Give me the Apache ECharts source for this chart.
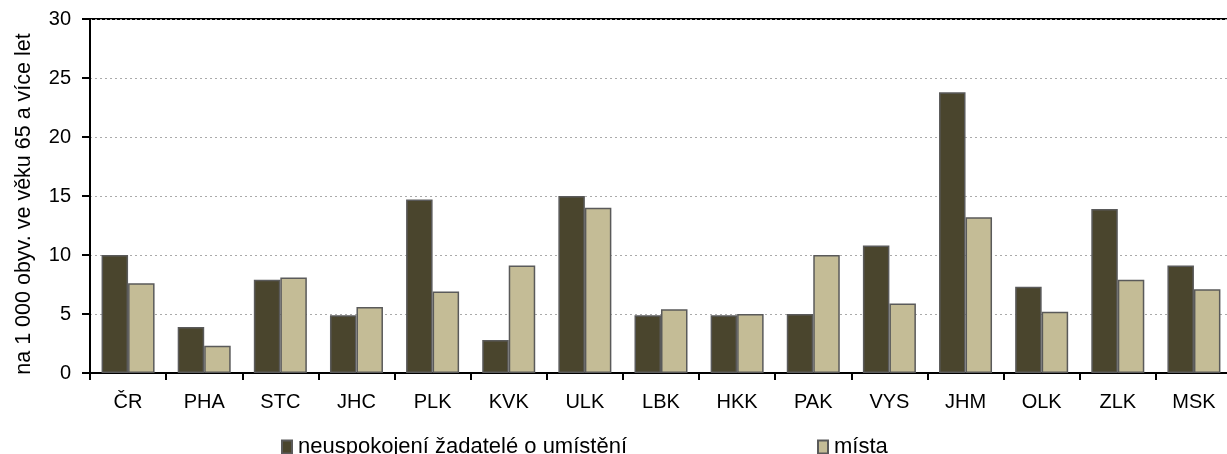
<!DOCTYPE html>
<html><head><meta charset="utf-8">
<script src="https://cdn.jsdelivr.net/npm/echarts@6/dist/echarts.min.js"></script>
<style>html,body{margin:0;padding:0;background:#fff}#c{width:1227px;height:454px}</style>
</head><body><div id="c"></div>
<script>
const categories = ['ČR','PHA','STC','JHC','PLK','KVK','ULK','LBK','HKK','PAK','VYS','JHM','OLK','ZLK','MSK'];
const applicants = [10.0,3.9,7.9,4.9,14.7,2.8,15.0,4.9,4.9,5.0,10.8,23.8,7.3,13.9,9.1];
const places = [7.6,2.3,8.1,5.6,6.9,9.1,14.0,5.4,5.0,10.0,5.9,13.2,5.2,7.9,7.1];
const yTicks = [0,5,10,15,20,25,30];
const seriesNames = ['neuspokojení žadatelé o umístění','místa'];

const chart = echarts.init(document.getElementById('c'), null, {renderer:'canvas'});
const font = 'Liberation Sans, Arial, sans-serif';
const legendText = {fontSize:22,color:'#000',fontFamily:font,padding:[0,0,0,1]};
chart.setOption({
  animation:false,
  textStyle:{fontFamily:font},
  grid:{left:90,width:1142,top:19,height:354,containLabel:false,outerBoundsMode:'none',
    show:true,borderColor:'#000',borderWidth:2,backgroundColor:'transparent'},
  legend:[
    {data:[seriesNames[0]],left:276,top:431,itemWidth:10,itemHeight:13,icon:'rect',
     textStyle:legendText},
    {data:[seriesNames[1]],left:812,top:431,itemWidth:10,itemHeight:13,icon:'rect',
     textStyle:legendText}
  ],
  xAxis:{type:'category',data:categories,
    axisLine:{lineStyle:{color:'#000',width:2}},
    axisTick:{show:true,length:7,lineStyle:{color:'#000',width:2}},
    axisLabel:{fontSize:20,color:'#000',margin:19,fontFamily:font}},
  yAxis:{type:'value',min:yTicks[0],max:yTicks[yTicks.length-1],interval:5,
    name:'na 1 000 obyv. ve věku 65 a více let',nameLocation:'middle',nameGap:55,
    nameTextStyle:{fontSize:21.5,color:'#000',fontFamily:font,padding:[0,16,0,0]},
    axisLine:{show:true,lineStyle:{color:'#000',width:2}},
    axisTick:{show:true,length:8,lineStyle:{color:'#000',width:2}},
    axisLabel:{fontSize:20,color:'#000',margin:19,fontFamily:font},
    splitLine:{lineStyle:{color:'#aaa',type:[2,3],width:1}}},
  series:[
    {name:seriesNames[0],type:'bar',data:applicants,barWidth:26.5,barGap:'0%',
     itemStyle:{color:'#4a452d',borderColor:'#5a5a5a',borderWidth:1.5}},
    {name:seriesNames[1],type:'bar',data:places,barWidth:26.5,barGap:'0%',
     itemStyle:{color:'#c4bc96',borderColor:'#5a5a5a',borderWidth:1.5}}
  ]
});
</script></body></html>
